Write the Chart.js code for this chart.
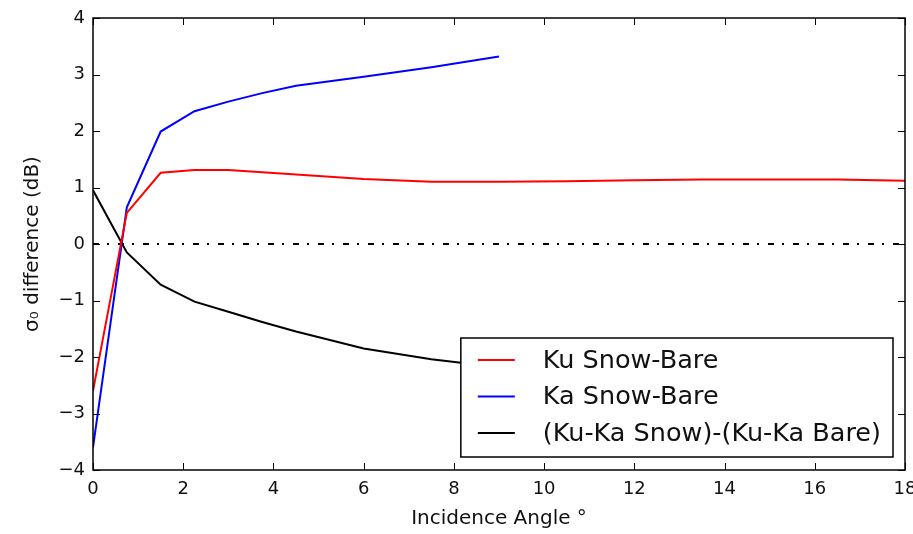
<!DOCTYPE html>
<html>
<head>
<meta charset="utf-8">
<script src="https://cdn.jsdelivr.net/npm/chart.js@4.4.0/dist/chart.umd.min.js"></script>
<style>
  html, body { margin: 0; padding: 0; background: #fff; overflow: hidden; }
  #wrap { width: 913px; height: 534px; overflow: hidden; position: relative; }
  #wrap canvas { position: absolute; left: 0; top: 0; }
</style>
</head>
<body>
<div id="wrap"><canvas id="chart" width="940" height="534"></canvas></div>
<script>
/* ================= DATA ================= */
const kuAngle = [0, 0.75, 1.5, 2.25, 3, 4.5, 6, 7.5, 9, 10.5, 12, 13.5, 15, 16.5, 18];
const kuDiff  = [-2.6, 0.55, 1.26, 1.31, 1.31, 1.23, 1.15, 1.10, 1.10, 1.11, 1.13, 1.14, 1.14, 1.14, 1.12];

const kaAngle = [0, 0.75, 1.5, 2.25, 3, 3.75, 4.5, 6, 7.5, 9];
const kaDiff  = [-3.6, 0.65, 1.99, 2.35, 2.52, 2.67, 2.80, 2.96, 3.13, 3.32];

const dualAngle = [0, 0.75, 1.5, 2.25, 3, 3.75, 4.5, 6, 7.5, 9];
const dualDiff  = [0.95, -0.15, -0.72, -1.02, -1.2, -1.38, -1.55, -1.85, -2.04, -2.18];

const zeroAngle = [0, 18];
const zeroVal   = [0, 0];

const seriesLabels = ["Ku Snow-Bare", "Ka Snow-Bare", "(Ku-Ka Snow)-(Ku-Ka Bare)"];

const xTitle = "Incidence Angle \u00b0";
const yTitle = "\u03c3\u2080 difference (dB)";

const pts = (xs, ys) => xs.map((x, i) => ({ x, y: ys[i] }));

const FONT = "'DejaVu Sans', 'Liberation Sans', sans-serif";

/* ================= PLUGIN: frame, inward ticks, legend ================= */
const framePlugin = {
  id: "frame",
  afterDraw(chart) {
    const { ctx, chartArea: a, scales } = chart;
    const tl = 7;
    ctx.save();
    ctx.strokeStyle = "#000";
    ctx.lineWidth = 1.5;
    ctx.strokeRect(a.left, a.top, a.right - a.left, a.bottom - a.top);

    ctx.lineWidth = 1;
    ctx.beginPath();
    scales.x.ticks.forEach(t => {
      const px = Math.round(scales.x.getPixelForValue(t.value)) + 0.5;
      ctx.moveTo(px, a.bottom); ctx.lineTo(px, a.bottom - tl);
      ctx.moveTo(px, a.top);    ctx.lineTo(px, a.top + tl);
    });
    scales.y.ticks.forEach(t => {
      const py = Math.round(scales.y.getPixelForValue(t.value)) + 0.5;
      ctx.moveTo(a.left, py);  ctx.lineTo(a.left + tl, py);
      ctx.moveTo(a.right, py); ctx.lineTo(a.right - tl, py);
    });
    ctx.stroke();

    // legend (lower right, matplotlib style)
    const items = chart.data.datasets.filter(d => d.label);
    ctx.font = "25.5px " + FONT;
    const textW = Math.max(...items.map(d => ctx.measureText(d.label).width));
    const padL = 17, lineLen = 37, gap = 28, padR = 12;
    const rowH = 36.5, padT = 22, padB = 24;
    const w = padL + lineLen + gap + textW + padR;
    const h = padT + rowH * (items.length - 1) + padB;
    const right = a.right - 12, bottom = a.bottom - 13;
    const left = right - w, top = bottom - h;
    ctx.fillStyle = "#fff";
    ctx.fillRect(left, top, w, h);
    ctx.lineWidth = 1.5;
    ctx.strokeStyle = "#000";
    ctx.strokeRect(left, top, w, h);
    ctx.textBaseline = "middle";
    ctx.textAlign = "left";
    items.forEach((d, i) => {
      const y = top + padT + i * rowH;
      ctx.strokeStyle = d.borderColor;
      ctx.lineWidth = d.borderWidth;
      ctx.beginPath();
      ctx.moveTo(left + padL, y);
      ctx.lineTo(left + padL + lineLen, y);
      ctx.stroke();
      ctx.fillStyle = "#111";
      ctx.fillText(d.label, left + padL + lineLen + gap, y + 1);
    });
    ctx.restore();
  }
};

/* ================= CHART ================= */
const chart = new Chart(document.getElementById("chart"), {
  type: "line",
  data: {
    datasets: [
      { label: seriesLabels[0], data: pts(kuAngle, kuDiff), borderColor: "#ff0000", borderWidth: 2 },
      { label: seriesLabels[1], data: pts(kaAngle, kaDiff), borderColor: "#0000ff", borderWidth: 2 },
      { label: seriesLabels[2], data: pts(dualAngle, dualDiff), borderColor: "#000000", borderWidth: 2 },
      { label: "", data: pts(zeroAngle, zeroVal), borderColor: "#000000", borderWidth: 2, borderDash: [6, 8, 2, 9] }
    ]
  },
  options: {
    responsive: false,
    animation: false,
    devicePixelRatio: 1,
    layout: { padding: { top: 18, right: 35, bottom: 0, left: 0 } },
    elements: {
      point: { radius: 0 },
      line: { tension: 0, fill: false }
    },
    plugins: {
      legend: { display: false },
      tooltip: { enabled: false }
    },
    scales: {
      x: {
        type: "linear",
        min: 0, max: 18,
        grid: { display: false, drawTicks: false },
        border: { display: false },
        ticks: { stepSize: 2, color: "#111", padding: 9, maxRotation: 0, font: { family: FONT, size: 18 } },
        title: { display: true, text: xTitle, color: "#111", padding: { bottom: 3 }, font: { family: FONT, size: 20 } },
        afterFit(s) { s.height = 64; s.paddingLeft = 0; s.paddingRight = 0; }
      },
      y: {
        min: -4, max: 4,
        grid: { display: false, drawTicks: false },
        border: { display: false },
        ticks: {
          stepSize: 1, color: "#111", padding: 8, font: { family: FONT, size: 18 },
          callback: v => (v < 0 ? "\u2212" + Math.abs(v) : String(v))
        },
        title: { display: true, text: yTitle, color: "#111", padding: { top: 21 }, font: { family: FONT, size: 20 } },
        afterFit(s) { s.width = 93; s.paddingTop = 0; s.paddingBottom = 0; }
      }
    }
  },
  plugins: [framePlugin]
});
</script>
</body>
</html>
